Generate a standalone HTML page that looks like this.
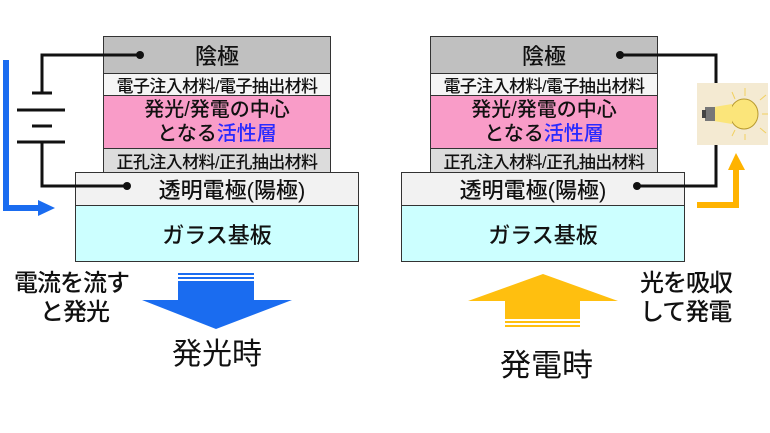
<!DOCTYPE html>
<html><head><meta charset="utf-8"><style>
body{margin:0;width:770px;height:433px;background:#fff;overflow:hidden;position:relative;font-family:"Liberation Sans","Noto Sans CJK JP",sans-serif;}
.b{position:absolute;box-sizing:border-box;border:1.5px solid #333;display:flex;align-items:center;justify-content:center;color:#111;white-space:nowrap;font-weight:500;}
.t{position:absolute;color:#111;white-space:nowrap;font-weight:500;}
</style></head><body>
<div class="b" style="left:103px;top:36px;width:228px;height:38px;background:#c0c0c0;font-size:22px;">陰極</div>
<div class="b" style="left:103px;top:73px;width:228px;height:23px;background:#f5f5f5;font-size:17px;letter-spacing:-0.6px;">電子注入材料/電子抽出材料</div>
<div class="b" style="left:103px;top:95px;width:228px;height:54px;background:#f99cc8;font-size:20px;line-height:24px;flex-direction:column;"><div>発光/発電の中心</div><div>となる<span style="color:#2a2aff">活性層</span></div></div>
<div class="b" style="left:103px;top:148px;width:228px;height:25px;background:#dcdcdc;font-size:17px;letter-spacing:-0.6px;">正孔注入材料/正孔抽出材料</div>
<div class="b" style="left:75px;top:172px;width:284px;height:34px;background:#f2f2f2;font-size:22px;padding-left:30px;">透明電極(陽極)</div>
<div class="b" style="left:75px;top:205px;width:284px;height:57px;background:#ccffff;font-size:22px;">ガラス基板</div>
<div class="b" style="left:430px;top:36px;width:228px;height:38px;background:#c0c0c0;font-size:22px;">陰極</div>
<div class="b" style="left:430px;top:73px;width:228px;height:23px;background:#f5f5f5;font-size:17px;letter-spacing:-0.6px;">電子注入材料/電子抽出材料</div>
<div class="b" style="left:430px;top:95px;width:228px;height:54px;background:#f99cc8;font-size:20px;line-height:24px;flex-direction:column;"><div>発光/発電の中心</div><div>となる<span style="color:#2a2aff">活性層</span></div></div>
<div class="b" style="left:430px;top:148px;width:228px;height:25px;background:#dcdcdc;font-size:17px;letter-spacing:-0.6px;">正孔注入材料/正孔抽出材料</div>
<div class="b" style="left:401px;top:172px;width:284px;height:34px;background:#f2f2f2;font-size:22px;padding-right:20px;">透明電極(陽極)</div>
<div class="b" style="left:401px;top:205px;width:284px;height:57px;background:#ccffff;font-size:22px;">ガラス基板</div>

<svg width="770" height="433" style="position:absolute;left:0;top:0" xmlns="http://www.w3.org/2000/svg">
<g stroke="#111" stroke-width="3" fill="none">
<polyline points="140,55 42,55 42,93"/>
<polyline points="42,142 42,186 127,186"/>
<line x1="32" y1="93" x2="52" y2="93"/>
<line x1="17" y1="110" x2="65" y2="110"/>
<line x1="32" y1="126" x2="52" y2="126"/>
<line x1="17" y1="142" x2="65" y2="142"/>
<polyline points="620,55 716,55 716,186 637,186"/>
</g>
<g fill="#111"><circle cx="140" cy="55" r="4"/><circle cx="127" cy="186" r="4"/><circle cx="620" cy="55" r="4"/><circle cx="637" cy="186" r="4"/></g>
<polyline points="6,60 6,208 40,208" stroke="#1a6cf0" stroke-width="6" fill="none"/>
<polygon points="38,200 55,208 38,216" fill="#1a6cf0"/>
<rect x="697" y="83" width="71" height="62" fill="#f4ead2"/>
<g stroke="#f2d060" stroke-width="1">
<line x1="745" y1="88" x2="745" y2="96"/><line x1="760" y1="100" x2="766" y2="95"/><line x1="762" y1="114" x2="768" y2="114"/><line x1="760" y1="128" x2="766" y2="133"/><line x1="745" y1="140" x2="745" y2="134"/><line x1="732" y1="92" x2="735" y2="99"/><line x1="732" y1="136" x2="735" y2="130"/>
</g>
<ellipse cx="744" cy="114" rx="14" ry="15" fill="#fbe57a" stroke="#b89a30"/>
<polygon points="714,107 732,104 732,124 714,121" fill="#fbe57a"/>
<rect x="705" y="107" width="10" height="14" fill="#777"/>
<rect x="702" y="110" width="4" height="8" fill="#444"/>
<polyline points="697,205 736,205 736,168" stroke="#ffb300" stroke-width="6" fill="none"/>
<polygon points="728,170 736,153 745,170" fill="#ffb300"/>
<rect x="178" y="273" width="76" height="2" fill="#1a6cf0"/>
<rect x="178" y="277" width="76" height="2" fill="#1a6cf0"/>
<polygon points="178,281 254,281 254,300 292,300 216,329 142,300 178,300" fill="#1a6cf0"/>
<polygon points="543,274 618,301 580,301 580,319 505,319 505,301 468,301" fill="#ffbf0f"/>
<rect x="505" y="321" width="75" height="2" fill="#ffbf0f"/>
<rect x="505" y="325" width="75" height="2" fill="#ffbf0f"/>
</svg>

<div class="t" style="left:14px;top:269px;font-size:24px;line-height:29px;letter-spacing:-1px;">電流を流す</div>
<div class="t" style="left:40px;top:298px;font-size:24px;line-height:29px;letter-spacing:-1px;">と発光</div>
<div class="t" style="left:172px;top:336px;font-size:30px;line-height:38px;font-weight:normal;">発光時</div>
<div class="t" style="left:640px;top:269px;font-size:24px;line-height:29px;letter-spacing:-1px;">光を吸収</div>
<div class="t" style="left:640px;top:298px;font-size:24px;line-height:29px;letter-spacing:-1px;">して発電</div>
<div class="t" style="left:500px;top:346px;font-size:31px;line-height:40px;font-weight:normal;">発電時</div>
</body></html>
